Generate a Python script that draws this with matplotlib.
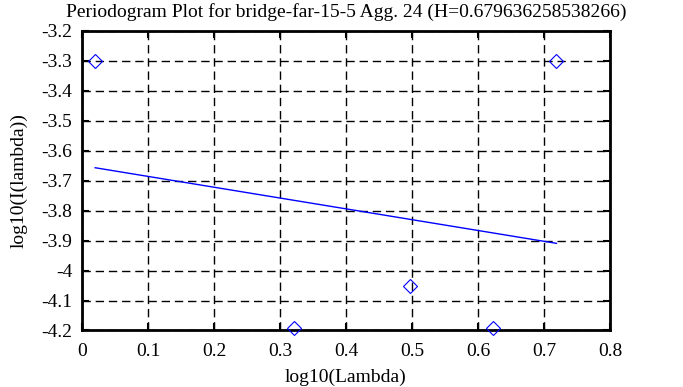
import matplotlib
matplotlib.use("Agg")
import matplotlib.pyplot as plt
import numpy as np

plt.rcParams['font.family'] = ['Liberation Serif', 'DejaVu Serif']

# periodogram points (log10 of frequency, log10 of intensity)
log_lambda = [0.0200, 0.3211, 0.4971, 0.6221, 0.7190]
log_intensity = [-3.300, -4.190, -4.052, -4.192, -3.300]
title = 'Periodogram Plot for bridge-far-15-5 Agg. 24 (H=0.679636258538266)'

x_ticks = [0, 0.1, 0.2, 0.3, 0.4, 0.5, 0.6, 0.7, 0.8]
y_ticks = [-3.2, -3.3, -3.4, -3.5, -3.6, -3.7, -3.8, -3.9, -4, -4.1, -4.2]

fig = plt.figure(figsize=(6.83, 3.87), dpi=100)
ax = fig.add_axes([0.120, 0.146, 0.773, 0.774])

# least squares fit line over the points
slope, icpt = np.polyfit(log_lambda, log_intensity, 1)
fx = np.array([log_lambda[0], log_lambda[-1]])
ax.plot(fx, slope * fx + icpt, color='#0000ff', lw=1.0, zorder=3)

ax.plot(log_lambda, log_intensity, linestyle='none', marker='D', markersize=7.5,
        markerfacecolor='none', markeredgecolor='#0000ff', markeredgewidth=0.8,
        clip_on=False, zorder=4)

ax.set_xlim(0, 0.8)
ax.set_ylim(-4.2, -3.2)
ax.set_xticks(x_ticks)
ax.set_xticklabels(['0' if t == 0 else f'{t:g}' for t in x_ticks])
ax.set_yticks(y_ticks)
ax.set_yticklabels([f'{t:g}' for t in y_ticks])

ax.grid(True, color='black', linestyle=(0, (6, 3.5)), linewidth=1.0)
ax.tick_params(direction='in', length=5, width=1.5, top=True, right=True,
               labelsize=14)
ax.tick_params(axis='x', pad=9)
ax.tick_params(axis='y', pad=7)
for s in ax.spines.values():
    s.set_linewidth(2)
    s.set_color('black')

ax.set_xlabel('log10(Lambda)', fontsize=14, labelpad=6)
ax.set_ylabel('log10(I(lambda))', fontsize=14, labelpad=10)
ax.set_title(title, fontsize=14, pad=10)

fig.savefig('out.png', dpi=100)
